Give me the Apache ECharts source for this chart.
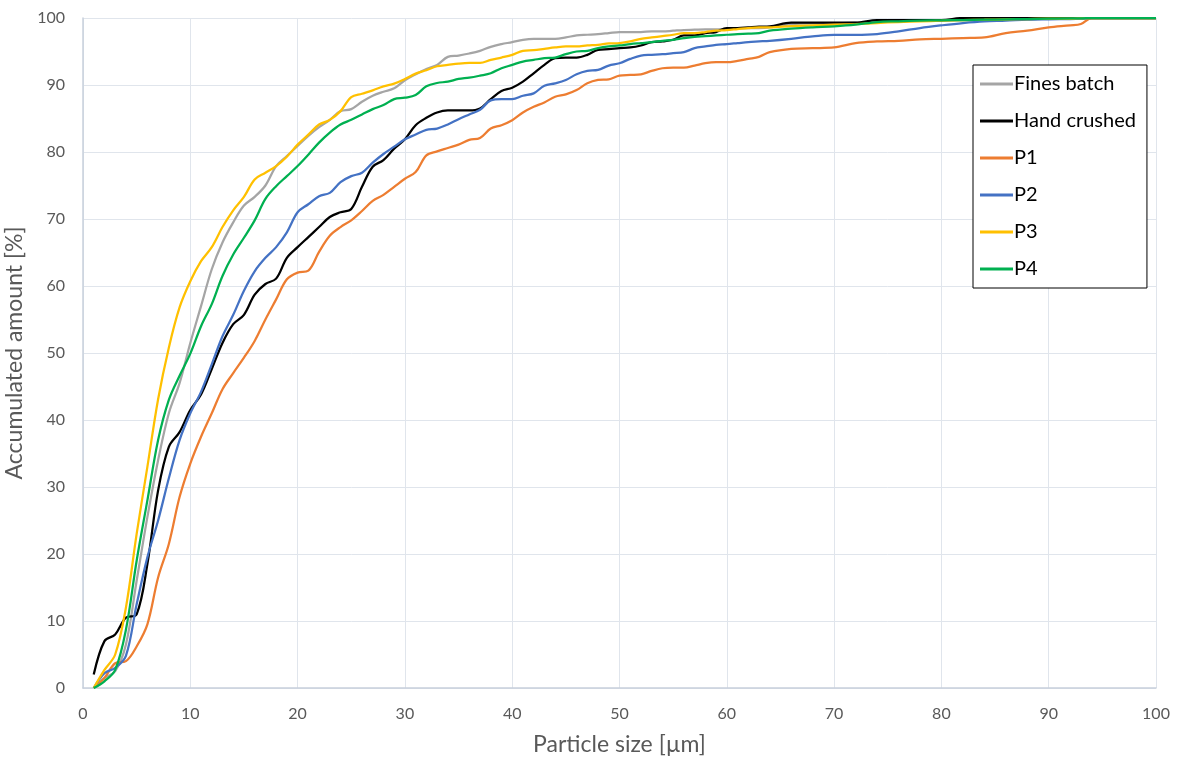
<!DOCTYPE html>
<html>
<head>
<meta charset="utf-8">
<script src="https://cdn.jsdelivr.net/npm/echarts@6/dist/echarts.min.js"></script>
<style>
html,body{margin:0;padding:0;background:#fff;}
#chart{width:1178px;height:760px;}
</style>
</head>
<body>
<div id="chart"></div>
<script>
// Particle sizes [µm]
const sizes = [1,2,3,4,5,6,7,8,9,10,11,12,13,14,15,16,17,18,19,20,21,22,23,24,25,26,27,28,29,30,
  31,32,33,34,35,36,37,38,39,40,41,42,43,44,45,46,47,48,49,50,51,52,53,54,55,56,57,58,59,60,61,62,63,64,
  66,68,70,72,74,76,78,80,82,84,86,88,90,92,93,94,96,98,100];

const finesBatch = [0,1.5,2.5,6.5,16,25.5,34,41,45.5,51.5,57,62.5,66.5,69.5,72,73.3,75,77.9,79.4,80.9,
  82.4,83.7,84.8,86.1,86.4,87.5,88.4,89,89.5,90.7,91.6,92.4,93,94.2,94.4,94.7,95.1,95.7,96.1,96.4,
  96.75,96.9,96.9,96.9,97.1,97.4,97.5,97.6,97.75,97.9,97.9,97.9,98,98,98.1,98.2,98.25,98.3,98.3,98.4,98.4,98.5,98.5,98.6,
  99.1,99.2,99.2,99.3,99.5,99.5,99.6,99.6,99.7,99.7,99.8,99.8,99.9,99.9,99.95,100,100,100,100];

const handCrushed = [2,7,8,10.5,11,18.5,29.5,36,38.2,41.5,43.8,47.6,51.5,54.3,55.7,58.7,60.3,61.1,64.2,65.8,
  67.3,68.8,70.3,71,71.5,74.8,77.8,78.8,80.5,81.9,84,85.1,85.9,86.2,86.2,86.2,86.5,87.9,89.1,89.6,
  90.5,91.75,93,94,94.1,94.1,94.5,95.25,95.35,95.5,95.6,95.9,96.4,96.5,96.75,97.4,97.4,97.75,97.9,98.5,98.5,98.6,98.7,98.75,
  99.3,99.3,99.3,99.3,99.7,99.7,99.7,99.7,100,100,100,100,100,100,100,100,100,100,100];

const p1 = [0,1.5,3.7,4,6.2,9.5,16.5,21.5,28.5,33.5,37.5,41,44.6,47,49.3,51.8,55,58,61,62,
  62.3,65.1,67.5,68.8,69.8,71.2,72.7,73.6,74.8,76,77,79.5,80.1,80.6,81.1,81.8,82.1,83.5,84,84.75,
  85.9,86.75,87.4,88.25,88.6,89.25,90.25,90.75,90.85,91.4,91.5,91.6,92.1,92.5,92.6,92.6,92.9,93.25,93.4,93.4,93.6,93.9,94.2,94.9,
  95.4,95.5,95.6,96.25,96.5,96.6,96.8,96.9,97,97.1,97.75,98.1,98.6,98.9,99.1,100,100,100,100];

const p2 = [0,2.2,3,4.8,12.5,19.5,25,31.3,37,41,44.2,48.3,52.5,55.7,59.3,62.2,64.2,65.8,68,71,
  72.2,73.4,73.9,75.5,76.4,76.9,78.4,79.7,80.8,81.9,82.6,83.3,83.5,84.1,84.9,85.6,86.3,87.7,87.9,87.9,
  88.4,88.75,89.9,90.25,90.75,91.6,92.1,92.25,92.9,93.25,93.9,94.4,94.5,94.6,94.75,94.9,95.5,95.75,96,96.1,96.25,96.4,96.5,96.6,
  96.9,97.25,97.5,97.5,97.6,98,98.5,98.9,99.25,99.5,99.6,99.75,99.8,99.85,99.9,100,100,100,100];

const p3 = [0,2.7,5,12,23,33,43.1,50.8,56.8,60.7,63.7,65.8,68.8,71.3,73.3,75.9,76.9,77.9,79.3,81.1,
  82.6,84.1,84.8,86.1,88.2,88.7,89.2,89.8,90.2,90.9,91.7,92.2,92.8,93,93.2,93.3,93.3,93.75,94.1,94.5,
  95.1,95.2,95.4,95.6,95.75,95.75,95.9,96,96.2,96.25,96.5,96.9,97.1,97.3,97.5,97.75,97.75,97.9,98.1,98.2,98.35,98.5,98.6,98.6,
  98.8,98.9,99,99.1,99.25,99.4,99.5,99.6,99.7,99.75,99.8,99.85,99.9,99.9,99.95,100,100,100,100];

const p4 = [0,1,2.7,8.7,19,28,37,43,46.6,49.9,54,57.3,61.5,64.7,67.2,69.8,73,74.9,76.4,77.9,
  79.6,81.4,82.9,84.1,84.8,85.6,86.4,87,87.9,88.1,88.5,89.8,90.3,90.5,90.9,91.1,91.4,91.75,92.5,93,
  93.5,93.75,94,94.1,94.6,95,95.1,95.5,95.75,95.9,96.1,96.25,96.4,96.6,96.75,97,97.2,97.3,97.4,97.5,97.6,97.65,97.75,98.1,
  98.4,98.6,98.75,99,99.4,99.5,99.6,99.65,99.7,99.75,99.8,99.85,99.9,99.95,99.95,100,100,100,100];

const seriesNames = ['Fines batch','Hand crushed','P1','P2','P3','P4'];
const seriesValues = [finesBatch, handCrushed, p1, p2, p3, p4];
const seriesColors = ['#A5A5A5','#000000','#ED7D31','#4472C4','#FFC000','#00B050'];

const FONT = 'Lato, "Open Sans", sans-serif';
const chart = echarts.init(document.getElementById('chart'), null, {renderer:'canvas'});

const option = {
  backgroundColor:'#ffffff',
  animation:false,
  textStyle:{fontFamily:FONT},
  grid:{left:83, right:22, top:18, bottom:72, containLabel:false, outerBoundsMode:'none'},
  legend:{
    orient:'vertical',
    left:973, top:65,
    backgroundColor:'#ffffff',
    borderColor:'#000000', borderWidth:1,
    padding:[9,11,9,7],
    itemGap:17,
    itemWidth:33, itemHeight:3,
    icon:'rect',
    textStyle:{fontFamily:FONT, fontSize:20, color:'#000000', padding:[0,0,0,-4]},
    data:seriesNames
  },
  xAxis:{
    type:'value', min:0, max:100, interval:10,
    name:'Particle size [µm]', nameLocation:'middle', nameGap:45,
    nameTextStyle:{fontFamily:FONT, fontSize:23, color:'#595959'},
    axisLine:{show:true, lineStyle:{color:'#c8d0dc', width:1.5}},
    axisTick:{show:false},
    axisLabel:{fontFamily:FONT, fontSize:16, color:'#595959', margin:18},
    splitLine:{show:true, lineStyle:{color:'#e0e5ec', width:1}}
  },
  yAxis:{
    type:'value', min:0, max:100, interval:10,
    name:'Accumulated amount [%]', nameLocation:'middle', nameGap:49,
    nameTextStyle:{fontFamily:FONT, fontSize:23, color:'#595959'},
    axisLine:{show:true, lineStyle:{color:'#c8d0dc', width:1.5}},
    axisTick:{show:false},
    axisLabel:{fontFamily:FONT, fontSize:16, color:'#595959', margin:18},
    splitLine:{show:true, lineStyle:{color:'#e0e5ec', width:1}}
  },
  series: seriesNames.map((n,i)=>({
    name:n, type:'line',
    data: sizes.map((x,j)=>[x, seriesValues[i][j]]),
    showSymbol:false, symbol:'none',
    smooth:0.35,
    lineStyle:{color:seriesColors[i], width:2.25},
    itemStyle:{color:seriesColors[i]},
    z: 2+i
  }))
};
chart.setOption(option);
</script>
</body>
</html>
